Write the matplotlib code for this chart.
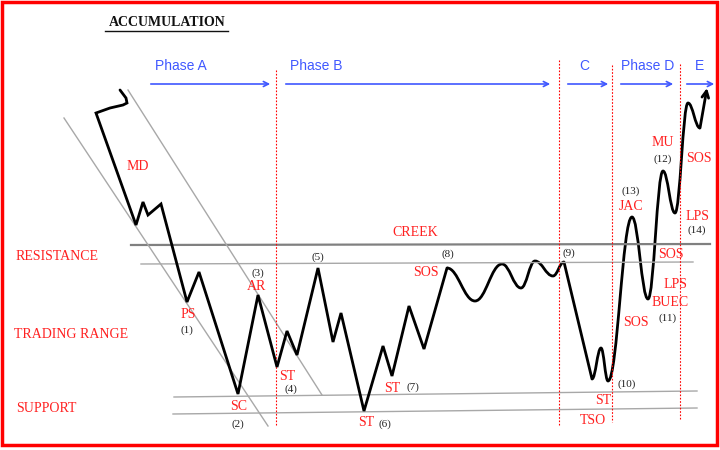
import matplotlib
matplotlib.use('Agg')
import matplotlib.pyplot as plt
from matplotlib.path import Path
from matplotlib.patches import PathPatch, Rectangle

# 价格走势：折线部分 (像素坐标, y 向下)
zig_x = [120, 126, 127, 123, 110, 96, 136, 143, 148, 161, 187, 199, 238, 258, 277, 287, 297,
         318, 333, 341, 364, 383, 392, 409, 424, 447]
zig_y = [90, 98, 103, 105, 108, 113, 225, 202, 215, 204, 302, 272, 394, 295, 367, 331, 355,
         268, 342, 313, 411, 346, 376, 306, 349, 268]

# 价格走势：平滑波浪部分 (各极值点)
wave_x = [447, 475, 502, 521, 535, 553, 564, 592, 601, 608, 632, 648, 663, 675, 688, 700]
wave_y = [268, 301, 264, 288, 261, 276, 262, 379, 348, 381, 217, 299, 171, 213, 103, 128]
straight_segs = [6]          # (9) -> TSO 为直线下跌
tip_x, tip_y = 707, 88

# 水平/斜向参考线
creek_x, creek_y = [131, 710], [245, 244]
resist_x, resist_y = [141, 693], [264, 262]
sup_hi_x, sup_hi_y = [174, 697], [397, 391]
sup_lo_x, sup_lo_y = [173, 697], [414, 408]
chan_lo_x, chan_lo_y = [64, 268], [118, 426]
chan_hi_x, chan_hi_y = [128, 322], [90, 395]

# 阶段
phase_names = ['Phase A', 'Phase B', 'C', 'Phase D', 'E']
phase_text_x = [181, 316, 584, 648, 699]
phase_arrow_x0 = [148, 283, 565, 618, 684]
phase_arrow_x1 = [273, 553, 611, 676, 717]
divider_x = [276, 559, 612, 680]
divider_top = [70, 60, 65, 64]
divider_bot = [426, 425, 422, 420]

# 红色标签
red_labels = [('MD', 138, 166), ('PS', 188, 314), ('SC', 239, 406), ('AR', 257, 287),
              ('ST', 287, 376), ('ST', 366, 423), ('ST', 392, 388), ('SOS', 426, 273),
              ('ST', 603, 401), ('TSO', 593, 420), ('SOS', 636, 323), ('JAC', 631, 206),
              ('MU', 663, 143), ('SOS', 699, 159), ('LPS', 698, 216), ('SOS', 671, 254),
              ('LPS', 676, 285), ('BUEC', 670, 302), ('CREEK', 415, 232)]
zone_labels = [('RESISTANCE', 16, 257), ('TRADING RANGE', 14, 334), ('SUPPORT', 16, 408)]
num_labels = [('(1)', 187, 330), ('(2)', 238, 424), ('(3)', 258, 273), ('(4)', 291, 389),
              ('(5)', 318, 257), ('(6)', 385, 424), ('(7)', 413, 387), ('(8)', 448, 254),
              ('(9)', 569, 253), ('(10)', 627, 384), ('(11)', 668, 318), ('(12)', 663, 159),
              ('(13)', 631, 191), ('(14)', 697, 230)]

RED = '#ff2020'
BLUE = '#4058ff'
SERIF = ['Liberation Serif', 'DejaVu Serif']
SANS = ['Liberation Sans', 'DejaVu Sans']

fig = plt.figure(figsize=(7.2, 4.5), dpi=100)
ax = fig.add_axes([0, 0, 1, 1])
ax.set_xlim(0, 720)
ax.set_ylim(450, 0)
ax.axis('off')

# 边框
ax.add_patch(Rectangle((2, 2), 715, 443, fill=False, edgecolor='red', lw=2.5))

# 标题
ax.text(167, 23, 'ACCUMULATION', family=SERIF, fontsize=10, fontweight='bold',
        ha='center', va='center', color='#111111')
ax.plot([105, 228], [31, 31], color='#111111', lw=1)

# 参考线
ax.plot(creek_x, creek_y, color='#808080', lw=1.6)
for xs, ys in [(resist_x, resist_y), (sup_hi_x, sup_hi_y), (sup_lo_x, sup_lo_y),
               (chan_lo_x, chan_lo_y), (chan_hi_x, chan_hi_y)]:
    ax.plot(xs, ys, color='#a8a8a8', lw=1)

# 阶段分隔线
for x, t, b in zip(divider_x, divider_top, divider_bot):
    ax.plot([x, x], [t, b], color='red', lw=0.8, ls=(0, (1.5, 1.5)))

# 阶段文字与箭头
for name, tx, x0, x1 in zip(phase_names, phase_text_x, phase_arrow_x0, phase_arrow_x1):
    ax.text(tx, 66, name, family=SANS, fontsize=10, color=BLUE, ha='center', va='center')
    ax.annotate('', xy=(x1, 84), xytext=(x0, 84),
                arrowprops=dict(arrowstyle='->', color=BLUE, lw=1.2, mutation_scale=9))

# 价格折线
ax.plot(zig_x, zig_y, color='black', lw=2, solid_joinstyle='miter', solid_capstyle='round')

# 平滑波浪
verts = [(wave_x[0], wave_y[0])]
codes = [Path.MOVETO]
for i in range(len(wave_x) - 1):
    if i in straight_segs:
        verts.append((wave_x[i + 1], wave_y[i + 1]))
        codes.append(Path.LINETO)
        continue
    dx = wave_x[i + 1] - wave_x[i]
    verts += [(wave_x[i] + dx * 0.4, wave_y[i]),
              (wave_x[i + 1] - dx * 0.4, wave_y[i + 1]),
              (wave_x[i + 1], wave_y[i + 1])]
    codes += [Path.CURVE4] * 3
ax.add_patch(PathPatch(Path(verts, codes), fill=False, edgecolor='black', lw=2,
                       joinstyle='round'))
ax.annotate('', xy=(tip_x, tip_y), xytext=(wave_x[-1], wave_y[-1]),
            arrowprops=dict(arrowstyle='->', color='black', lw=2, mutation_scale=12,
                            shrinkA=0, shrinkB=0))

# 标签
for s, x, y in red_labels:
    ax.text(x, y, s, family=SERIF, fontsize=10, color=RED, ha='center', va='center')
for s, x, y in zone_labels:
    ax.text(x, y, s, family=SERIF, fontsize=10, color=RED, ha='left', va='center')
for s, x, y in num_labels:
    ax.text(x, y, s, family=SERIF, fontsize=8, color='#222222', ha='center', va='center')

fig.savefig('out.png', dpi=100)
